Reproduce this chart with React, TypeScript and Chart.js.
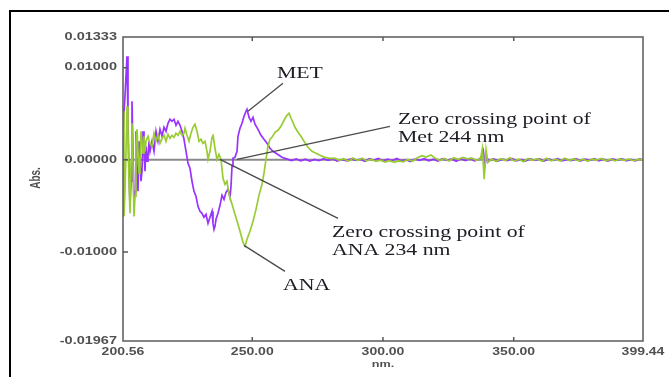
import React, { useEffect, useRef } from "react";
import { Chart, registerables } from "chart.js";

Chart.register(...registerables);

// ---- data (wavelength in nm, absorbance) ----
const MET_NM = [
  200.56, 201.32, 202.09, 202.47, 202.85, 203.24, 203.62, 204.0, 204.38, 204.77,
  205.15, 205.53, 205.91, 206.3, 206.68, 207.06, 207.44, 207.83, 208.21, 208.59,
  208.97, 209.36, 209.74, 210.12, 210.5, 210.89, 211.65, 212.42, 213.18, 213.95,
  214.71, 215.48, 216.24, 217.01, 217.77, 218.54, 219.3, 220.07, 220.83, 221.6,
  222.36, 223.13, 223.89, 224.66, 225.42, 226.18, 226.95, 227.71, 228.48, 229.24,
  230.01, 230.77, 231.54, 232.3, 233.07, 233.83, 234.6, 234.98, 235.36, 235.74,
  236.13, 236.89, 237.66, 238.42, 239.19, 239.95, 240.72, 241.48, 241.86, 242.25,
  242.63, 243.39, 244.16, 244.54, 245.31, 246.07, 246.84, 247.6, 247.98, 248.75,
  249.51, 250.28, 251.04, 252.19, 253.34, 254.48, 255.63, 256.78, 257.92, 259.07,
  260.22, 261.37, 262.51, 263.66,
  265.0, 266.8, 268.5, 270.3, 272.0, 273.8, 275.5, 277.3, 279.0, 280.8,
  282.5, 284.3, 286.0, 287.8, 289.5, 291.3, 293.0, 294.8, 296.5, 298.3,
  300.0, 301.8, 303.5, 305.3, 307.0, 308.8, 310.5, 312.3, 314.0, 315.8,
  317.5, 319.3, 321.0, 322.8, 324.5, 326.3, 328.0, 329.8, 331.5, 333.3,
  335.0, 336.8, 337.8, 338.4, 339.0, 339.6, 340.5, 342.3, 344.0, 345.8,
  347.5, 349.3, 351.0, 352.8, 354.5, 356.3, 358.0, 359.8, 361.5, 363.3,
  365.0, 366.8, 368.5, 370.3, 372.0, 373.8, 375.5, 377.3, 379.0, 380.8,
  382.5, 384.3, 386.0, 387.8, 389.5, 391.3, 393.0, 394.8, 396.5, 398.3,
  399.44,
];
const MET_ABS = [
  0.0031, 0.0069, 0.01124, 0.00418, -0.00125, -0.00505, -0.00233, 0.00635, 0.00092, -0.00451,
  -0.00342, 0.0031, -0.00179, -0.00342, 0.00201, -0.00016, -0.00233, -0.00125, 0.0031, 0.00092,
  -0.00125, 0.00147, -0.00016, 0.00038, 0.00201, 0.00092, 0.00201, 0.00092, 0.0031, 0.00201,
  0.00331, 0.00255, 0.00353, 0.0031, 0.00396, 0.0044, 0.00418, 0.0044, 0.00375, 0.00418,
  0.00375, 0.0031, 0.00223, 0.00092, -0.00038, -0.00092, -0.00233, -0.00342, -0.00396, -0.00505,
  -0.00559, -0.00581, -0.00624, -0.00592, -0.0069, -0.00624, -0.00559, -0.0069, -0.00755, -0.00722,
  -0.00646, -0.00581, -0.00494, -0.00386, -0.00429, -0.00353, -0.0032, -0.00407, -0.00288, -0.00071,
  0.00016, 0.00027, 0.00092, 0.00255, 0.00342, 0.00396, 0.00472, 0.00527, 0.00548, 0.00462,
  0.00418, 0.00462, 0.00386, 0.00331, 0.00266, 0.00223, 0.00179, 0.00125, 0.00092, 0.00071,
  0.00049, 0.00027, 0.00016, 0.00005,
  -0.00008, 0.0001, -0.00012, 0.00006, -0.00015, 0.00004, -0.0001, 0.00012, -0.00006, 0.00009,
  -0.00014, 0.00003, -0.00011, 0.00013, -0.00007, 0.00008, -0.00016, 0.00011, -0.00004, 0.00014,
  -0.00012, 0.00006, -0.00009, 0.00015, -0.00013, 0.00002, -0.00018, 0.0001, -0.00006, 0.00012,
  -0.00011, 0.00007, -0.00014, 0.00013, -0.00005, 0.00009, -0.00016, 0.00011, -0.00008, 0.00014,
  -0.0001, 0.00006, 0.00035, 0.00095, -0.0006, 0.0003, -0.00012, 0.0001, -0.00013, 0.00008,
  -0.00009, 0.00014, -0.00011, 0.00005, -0.00015, 0.00012, -0.00007, 0.0001, -0.00013, 0.00009,
  -0.00006, 0.00013, -0.00012, 0.00004, -0.0001, 0.00011, -0.00014, 0.00008, -0.00005, 0.00012,
  -0.00011, 0.00006, -0.00013, 0.0001, -0.00006, 0.00013, -0.0001, 0.00005, -0.00012, 0.00009,
  -0.00003,
];

const ANA_NM = [
  200.56, 200.94, 201.32, 201.71, 202.09, 202.47, 202.85, 203.24, 203.62, 204.0,
  204.38, 204.77, 205.15, 205.53, 205.91, 206.3, 206.68, 207.06, 207.44, 207.83,
  208.21, 208.59, 208.97, 209.36, 210.12, 210.89, 211.65, 212.42, 213.18, 213.95,
  214.71, 215.48, 216.24, 217.01, 217.77, 218.54, 219.3, 220.07, 220.83, 221.6,
  222.36, 223.13, 223.89, 224.27, 225.04, 225.8, 226.57, 227.33, 228.1, 228.86,
  229.63, 230.39, 231.16, 231.92, 232.68, 233.07, 233.83, 234.6, 234.98, 235.74,
  236.51, 237.27, 238.04, 238.8, 239.57, 240.33, 241.1, 242.25, 243.39, 244.54,
  245.31, 246.45, 247.22, 247.98, 249.13, 250.28, 251.42, 252.57, 253.72, 254.48,
  255.25, 256.01, 256.78, 257.54, 258.69, 259.84, 260.99, 262.13, 263.28, 264.05,
  265.19, 266.34, 267.49, 268.63, 269.78, 271.31, 272.84, 274.37, 275.89, 277.81,
  279.72,
  281.5, 283.3, 285.0, 286.8, 288.5, 290.3, 292.0, 293.8, 295.5, 297.3,
  299.0, 300.8, 302.5, 304.3, 306.0, 307.8, 309.5, 311.3, 313.0, 314.8,
  316.5, 318.3, 320.0, 321.8, 323.5, 325.3, 327.0, 328.8, 330.5, 332.3,
  334.0, 335.8, 337.3, 338.0, 338.7, 339.4, 340.1, 341.5, 343.3, 345.0,
  346.8, 348.5, 350.3, 352.0, 353.8, 355.5, 357.3, 359.0, 360.8, 362.5,
  364.3, 366.0, 367.8, 369.5, 371.3, 373.0, 374.8, 376.5, 378.3, 380.0,
  381.8, 383.5, 385.3, 387.0, 388.8, 390.5, 392.3, 394.0, 395.8, 397.5,
  399.44,
];
const ANA_ABS = [
  0.00527, -0.00614, -0.00342, 0.00092, 0.00581, 0.0031, -0.00233, -0.00581, -0.00016, 0.00396,
  -0.00071, -0.00614, -0.00396, 0.00147, 0.00331, 0.00092, -0.00147, -0.00016, 0.0031, 0.00201,
  0.00071, 0.00255, 0.00092, 0.00201, 0.00255, 0.00179, 0.00147, 0.00288, 0.00201, 0.00266,
  0.00179, 0.00233, 0.00266, 0.00201, 0.00277, 0.00233, 0.00266, 0.00244, 0.00288, 0.00266,
  0.0031, 0.00266, 0.00288, 0.00342, 0.00266, 0.00201, 0.00288, 0.00353, 0.00386, 0.0031,
  0.00201, 0.00223, 0.00179, 0.00201, 0.00092, 0.00005, 0.00092, 0.00244, 0.00277, 0.00125,
  0.00005, 0.0006, 0.00005, -0.00201, -0.00266, -0.00233, -0.00375, -0.00483, -0.00592, -0.007,
  -0.00776, -0.00896, -0.00939, -0.00863, -0.00776, -0.00668, -0.00538, -0.00386, -0.00266, -0.00147,
  0.00005, 0.00147, 0.00223, 0.00244, 0.00299, 0.0032, 0.00364, 0.00429, 0.00483, 0.00505,
  0.00429, 0.00353, 0.00299, 0.00255, 0.00201, 0.00136, 0.00092, 0.00071, 0.00049, 0.00027,
  0.00016,
  0.00018, -0.00006, 0.00012, -0.00015, 0.0002, -0.00008, 0.00016, -0.00012, 0.00006, -0.00018,
  -0.00005, -0.00025, -0.0001, -0.00028, -0.00012, -0.00022, 0.00004, -0.00016, 0.0002, 0.00045,
  0.0003, 0.00052, 0.00018, -0.00008, 0.00014, -0.00012, 0.00022, 0.00006, 0.00026, 0.0001,
  0.00018, -0.00006, 0.00012, 0.0012, -0.0021, 0.0011, -0.0003, 0.00008, -0.00018, 0.00012,
  -0.00008, 0.00022, -0.00014, 0.00006, -0.0002, 0.00015, -0.00006, 0.00012, -0.00016, 0.00018,
  -0.0001, 0.00008, -0.00014, 0.00016, -0.00008, 0.00012, -0.00012, 0.00006, -0.00016, 0.0001,
  -0.00004, 0.00014, -0.0001, 0.00006, -0.00012, 0.0001, -0.00006, 0.00008, -0.0001, 0.00004,
  0,
];

const X_MIN = 200.56;
const X_MAX = 399.44;
const Y_MIN = -0.01967;
const Y_MAX = 0.01333;
const X_TICKS = [200.56, 250, 300, 350, 399.44];
const X_TICK_LABELS = ["200.56", "250.00", "300.00", "350.00", "399.44"];
const Y_TICKS = [0.01333, 0.01, 0, -0.01, -0.01967];
const Y_TICK_LABELS = ["0.01333", "0.01000", "0.00000", "-0.01000", "-0.01967"];
const X_TITLE = "nm.";
const Y_TITLE = "Abs.";

// annotations: text lines anchored in data space, pointer lines in data space
const NOTES = [
  { lines: ["MET"], at: [259.45, 0.00885], from: [261.75, 0.00831], to: [248.36, 0.00527] },
  { lines: ["Zero crossing point of", "Met 244 nm"], at: [305.73, 0.00386], from: [302.67, 0.00364], to: [244.16, 0.00005] },
  { lines: ["Zero crossing point of", "ANA 234 nm"], at: [280.49, -0.00842], from: [282.8, -0.00635], to: [237.66, 0.00005] },
  { lines: ["ANA"], at: [261.75, -0.01417], from: [262.51, -0.01211], to: [246.83, -0.00929] },
];

const MET_COLOR = "#9933ff";
const ANA_COLOR = "#99cc33";

function stretchedText(ctx: CanvasRenderingContext2D, text: string, x: number, y: number, sx: number, align: CanvasTextAlign) {
  ctx.save();
  ctx.translate(x, y);
  ctx.scale(sx, 1);
  ctx.textAlign = align;
  ctx.fillText(text, 0, 0);
  ctx.restore();
}

const decorPlugin = {
  id: "decor",
  beforeDatasetsDraw(chart: any) {
    const { ctx, chartArea: a, scales } = chart;
    const y0 = scales.y.getPixelForValue(0);
    ctx.save();
    ctx.strokeStyle = "#8a8a8a";
    ctx.lineWidth = 2;
    ctx.beginPath();
    ctx.moveTo(a.left, y0);
    ctx.lineTo(a.right, y0);
    ctx.stroke();
    ctx.restore();
  },
  afterDatasetsDraw(chart: any) {
    const { ctx, chartArea: a, scales } = chart;
    const xs = scales.x;
    const ys = scales.y;
    ctx.save();

    // outer black frame (partial)
    ctx.fillStyle = "#000";
    ctx.fillRect(9, 10, 660, 2);
    ctx.fillRect(9, 10, 2, 367);

    // plot border
    ctx.strokeStyle = "#5a5a5a";
    ctx.lineWidth = 1.5;
    ctx.strokeRect(a.left, a.top, a.right - a.left, a.bottom - a.top);

    // tick marks (inward)
    ctx.lineWidth = 1.5;
    ctx.beginPath();
    X_TICKS.forEach((t) => {
      if (t === X_MIN || t === X_MAX) return;
      const px = xs.getPixelForValue(t);
      ctx.moveTo(px, a.top);
      ctx.lineTo(px, a.top + 4);
      ctx.moveTo(px, a.bottom);
      ctx.lineTo(px, a.bottom - 4);
    });
    Y_TICKS.forEach((t) => {
      if (t === Y_MIN || t === Y_MAX) return;
      const py = ys.getPixelForValue(t);
      ctx.moveTo(a.left, py);
      ctx.lineTo(a.left + 5, py);
    });
    ctx.stroke();

    // tick labels
    ctx.fillStyle = "#505050";
    ctx.font = 'bold 10px "Liberation Sans"';
    ctx.textBaseline = "middle";
    Y_TICKS.forEach((t, i) => {
      stretchedText(ctx, Y_TICK_LABELS[i], a.left - 6, ys.getPixelForValue(t), 1.45, "right");
    });
    X_TICKS.forEach((t, i) => {
      stretchedText(ctx, X_TICK_LABELS[i], xs.getPixelForValue(t), a.bottom + 11, 1.4, "center");
    });
    ctx.font = 'bold 9px "Liberation Sans"';
    stretchedText(ctx, X_TITLE, (a.left + a.right) / 2, a.bottom + 24, 1.4, "center");

    // y title rotated
    ctx.save();
    ctx.translate(36, (a.top + a.bottom) / 2 - 11);
    ctx.scale(1.4, 1);
    ctx.rotate(-Math.PI / 2);
    ctx.font = 'bold 10px "Liberation Sans"';
    ctx.textAlign = "center";
    ctx.fillText(Y_TITLE, 0, 0);
    ctx.restore();

    // annotations
    ctx.strokeStyle = "#4a4a4a";
    ctx.lineWidth = 1.3;
    ctx.fillStyle = "#1c1c24";
    ctx.font = '16px "Liberation Serif"';
    ctx.textBaseline = "alphabetic";
    NOTES.forEach((n) => {
      ctx.beginPath();
      ctx.moveTo(xs.getPixelForValue(n.from[0]), ys.getPixelForValue(n.from[1]));
      ctx.lineTo(xs.getPixelForValue(n.to[0]), ys.getPixelForValue(n.to[1]));
      ctx.stroke();
      const tx = xs.getPixelForValue(n.at[0]);
      const ty = ys.getPixelForValue(n.at[1]);
      n.lines.forEach((line, i) => {
        stretchedText(ctx, line, tx, ty + i * 18, 1.36, "left");
      });
    });

    ctx.restore();
  },
};

export default function App() {
  const canvasRef = useRef<HTMLCanvasElement | null>(null);

  useEffect(() => {
    const canvas = canvasRef.current;
    if (!canvas) return;
    const chart = new Chart(canvas, {
      type: "line",
      data: {
        datasets: [
          {
            label: "ANA",
            data: ANA_NM.map((x, i) => ({ x, y: ANA_ABS[i] })),
            borderColor: ANA_COLOR,
            borderWidth: 1.7,
            pointRadius: 0,
            tension: 0,
            fill: false,
          },
          {
            label: "MET",
            data: MET_NM.map((x, i) => ({ x, y: MET_ABS[i] })),
            borderColor: MET_COLOR,
            borderWidth: 1.7,
            pointRadius: 0,
            tension: 0,
            fill: false,
          },
        ],
      },
      options: {
        animation: false,
        responsive: false,
        devicePixelRatio: 1,
        events: [],
        layout: { padding: { left: 123, right: 26, top: 37, bottom: 36 } },
        plugins: { legend: { display: false }, tooltip: { enabled: false } },
        scales: {
          x: { type: "linear", min: X_MIN, max: X_MAX, display: false },
          y: { type: "linear", min: Y_MIN, max: Y_MAX, display: false },
        },
      },
      plugins: [decorPlugin],
    });
    return () => chart.destroy();
  }, []);

  return (
    <div style={{ position: "fixed", left: 0, top: 0, width: 669, height: 377, background: "#fff" }}>
      <canvas ref={canvasRef} width={669} height={377} style={{ width: 669, height: 377, display: "block" }} />
    </div>
  );
}
